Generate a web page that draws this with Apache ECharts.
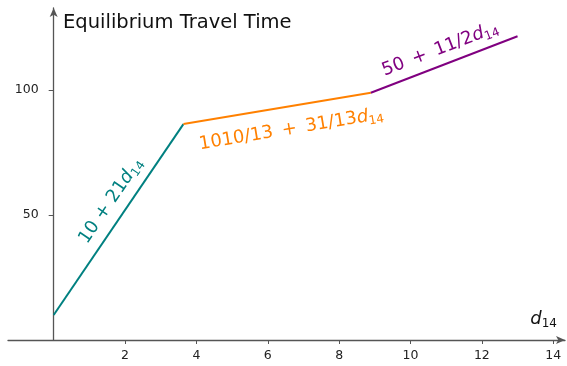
<!DOCTYPE html>
<html>
<head>
<meta charset="utf-8">
<script src="https://cdn.jsdelivr.net/npm/echarts@6/dist/echarts.min.js"></script>
<style>html,body{margin:0;padding:0;background:#fff}#c{width:567px;height:366px}</style>
</head>
<body>
<div id="c"></div>
<script>
// Data
var xTicks = [2, 4, 6, 8, 10, 12, 14];
var yTicks = [50, 100];
var segA_x = [0, 3.636];
var segA_y = [10, 86.36];
var segB_x = [3.636, 8.889];
var segB_y = [86.36, 98.89];
var segC_x = [8.889, 13];
var segC_y = [98.89, 121.5];
var labelA = ['10 + 21', 'd', '14'];
var labelB = ['1010/13\u2002+\u200231/13', 'd', '14'];
var labelC = ['50\u2002+\u200211/2', 'd', '14'];
var yTitle = 'Equilibrium Travel Time';
var xTitle = ['d', '14'];

var FONT = '"DejaVu Sans", sans-serif';
var X0 = -1.28, X1 = 14.33, GL = 8, GR = 2;
var yOff = -(0 - X0) / (X1 - X0) * (567 - GL - GR);
function pts(xs, ys){ return xs.map(function(x,i){ return [x, ys[i]]; }); }
function rich(color){
  return {
    a: {fontSize: 18, color: color, fontFamily: FONT, lineHeight: 22},
    i: {fontSize: 18, color: color, fontFamily: FONT, fontStyle: 'italic', lineHeight: 22},
    s: {fontSize: 12, color: color, fontFamily: FONT, lineHeight: 22, verticalAlign: 'bottom', padding: [7,0,0,0]}
  };
}
function seg(xs, ys, color, lab, pos, dist, off){
  var d = pts(xs, ys);
  return {
    type: 'line', data: d, showSymbol: false, silent: true,
    lineStyle: {color: color, width: 2}, animation: false,
    markLine: {
      silent: true, symbol: 'none', animation: false,
      lineStyle: {color: 'rgba(0,0,0,0)', width: 0},
      label: {
        show: true, position: pos, distance: dist, offset: off,
        formatter: '{a|' + lab[0] + '}{i|' + lab[1] + '}{s|' + lab[2] + '}',
        rich: rich(color)
      },
      data: [[{coord: d[0]}, {coord: d[1]}]]
    }
  };
}
var chart = echarts.init(document.getElementById('c'), null, {renderer: 'canvas'});
chart.setOption({
  animation: false,
  grid: {left: GL, right: GR, top: 8, bottom: 26, outerBoundsMode: 'none'},
  xAxis: {
    type: 'value', min: X0, max: X1,
    splitLine: {show: false},
    axisLine: {onZero: true, symbol: ['none', 'arrow'], symbolSize: [6, 9], lineStyle: {color: '#555', width: 1.3}},
    axisTick: {show: true, customValues: xTicks, length: 4, lineStyle: {color: '#555'}},
    axisLabel: {customValues: xTicks, color: '#222', fontSize: 12.5, margin: 9, fontFamily: FONT}
  },
  yAxis: {
    type: 'value', min: 0, max: 132.8, position: 'left', offset: yOff,
    splitLine: {show: false},
    axisLine: {onZero: false, symbol: ['none', 'arrow'], symbolSize: [6, 9], lineStyle: {color: '#555', width: 1.3}},
    axisTick: {show: true, customValues: yTicks, length: 5, lineStyle: {color: '#555'}},
    axisLabel: {show: true, customValues: yTicks, color: '#222', fontSize: 12.5, margin: 15, fontFamily: FONT}
  },
  graphic: [
    {type: 'text', left: 63, top: 13, style: {text: yTitle, fontSize: 19.5, fill: '#111', fontFamily: FONT}},
    {type: 'text', right: 10, top: 310, style: {
      text: '{i|' + xTitle[0] + '}{s|' + xTitle[1] + '}',
      rich: {
        i: {fontSize: 18, fill: '#111', fontFamily: FONT, fontStyle: 'italic', lineHeight: 22},
        s: {fontSize: 12, fill: '#111', fontFamily: FONT, lineHeight: 22, verticalAlign: 'bottom', padding: [7,0,0,0]}
      }
    }}
  ],
  series: [
    seg(segA_x, segA_y, '#008080', labelA, 'insideMiddleTop', 5, [7, -3]),
    seg(segB_x, segB_y, '#ff8000', labelB, 'insideMiddleBottom', 9, [12, 3]),
    seg(segC_x, segC_y, '#800080', labelC, 'insideMiddleTop', 5, [0, 0])
  ]
});
</script>
</body>
</html>
